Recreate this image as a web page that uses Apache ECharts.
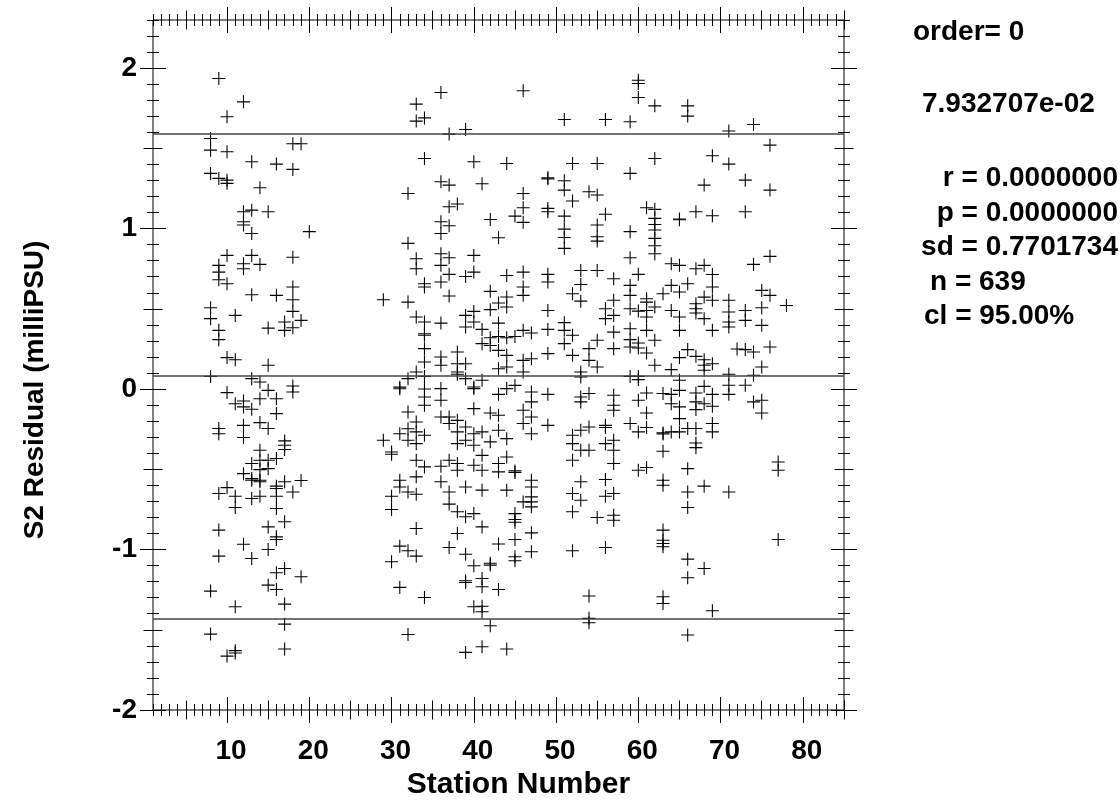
<!DOCTYPE html>
<html>
<head>
<meta charset="utf-8">
<script src="https://cdn.jsdelivr.net/npm/echarts@6/dist/echarts.min.js"></script>
<style>
html,body{margin:0;padding:0;background:#fff;}
#main{width:1120px;height:803px;}
</style>
</head>
<body>
<div id="main"></div>
<script>
// residuals (milliPSU), one list per station
var st08 = [1.562, 1.489, 1.344, 0.507, 0.439, 0.079, -1.259, -1.527];
var st09 = [1.935, 1.313, 0.771, 0.729, 0.681, 0.366, 0.308, -0.246, -0.278, -0.651, -0.879, -1.041];
var st10 = [1.697, 1.479, 1.302, 1.282, 0.833, 0.656, 0.196, -0.022, -0.614, -1.664];
var st11 = [0.459, 0.183, -0.091, -0.668, -0.738, -1.357, -1.630, -1.645];
var st12 = [1.790, 1.105, 1.043, 1.022, 0.781, 0.750, -0.074, -0.111, -0.226, -0.302, -0.527, -0.967];
var st13 = [1.417, 1.115, 0.970, 0.833, 0.588, 0.065, -0.126, -0.464, -0.558, -0.568, -0.682, -1.056];
var st14 = [1.255, 0.777, 0.044, -0.060, -0.209, -0.381, -0.444, -0.502, -0.568, -0.578, -0.668];
var st15 = [1.105, 0.380, 0.148, -0.008, -0.246, -0.444, -0.496, -0.859, -1.000, -1.222];
var st16 = [1.402, 0.584, -0.060, -0.153, -0.433, -0.605, -0.620, -0.668, -0.744, -0.921, -0.937, -1.145, -1.249];
var st17 = [0.418, 0.366, -0.323, -0.350, -0.377, -0.578, -0.827, -1.118, -1.340, -1.465, -1.620];
var st18 = [1.529, 1.369, 0.822, 0.636, 0.557, 0.484, 0.382, 0.019, -0.018, -0.641];
var st19 = [1.529, 0.428, -0.570, -1.170];
var st20 = [0.981];
var st29 = [0.557, -0.319];
var st30 = [-0.392, -0.406, -0.668, -0.751, -1.076];
var st31 = [0.012, 0.002, -0.278, -0.568, -0.610, -0.979, -1.236];
var st32 = [1.219, 0.908, 0.542, 0.065, -0.143, -0.247, -0.319, -0.641, -1.008, -1.529];
var st33 = [1.776, 1.670, 0.812, 0.750, 0.449, 0.106, -0.205, -0.267, -0.340, -0.444, -0.547, -0.655, -0.869, -1.041];
var st34 = [1.690, 1.437, 0.656, 0.636, 0.418, 0.345, 0.335, 0.252, 0.169, 0.079, 0.000, -0.049, -0.101, -0.288, -0.485, -1.299];
var st36 = [1.848, 1.292, 1.043, 0.970, 0.843, 0.771, 0.667, 0.411, 0.200, 0.148, 0.003, -0.070, -0.174, -0.481, -0.578];
var st37 = [1.589, 1.271, 1.136, 1.018, 0.818, 0.715, 0.580, -0.174, -0.215, -0.444, -0.641, -0.717, -0.987];
var st38 = [1.153, 0.231, 0.158, 0.106, 0.092, -0.195, -0.267, -0.340, -0.464, -0.506, -0.765, -0.900];
var st39 = [1.618, 0.702, 0.459, 0.387, 0.158, 0.065, -0.236, -0.319, -0.610, -0.796, -1.029, -1.195, -1.205, -1.641];
var st40 = [1.417, 0.833, 0.729, 0.484, 0.418, 0.013, 0.003, -0.122, -0.278, -0.350, -0.475, -0.776, -1.101, -1.357];
var st41 = [1.280, 0.372, 0.283, 0.055, -0.267, -0.413, -0.506, -0.630, -0.859, -1.180, -1.232, -1.353, -1.388, -1.606];
var st42 = [1.057, 0.609, 0.495, 0.320, 0.272, -0.149, -0.329, -1.085, -1.097, -1.475];
var st43 = [0.943, 0.536, 0.411, 0.328, 0.241, 0.127, -0.033, -0.163, -0.257, -0.464, -0.516, -0.966, -1.249];
var st44 = [1.406, 0.708, 0.574, 0.511, 0.320, 0.210, 0.138, 0.003, -0.309, -0.423, -0.630, -1.620];
var st45 = [1.078, 0.328, 0.023, -0.510, -0.520, -0.776, -0.813, -0.830, -0.937, -1.045, -1.070];
var st46 = [1.859, 1.219, 1.130, 1.039, 0.729, 0.636, 0.584, 0.366, 0.179, 0.106, -0.132, -0.215, -0.703];
var st47 = [0.349, 0.189, -0.018, -0.080, -0.174, -0.278, -0.568, -0.610, -0.672, -0.703, -0.734, -0.896, -1.014];
var st49 = [1.317, 1.310, 1.126, 1.105, 0.715, 0.667, 0.490, 0.372, 0.221, -0.033, -0.226];
var st51 = [1.680, 1.298, 1.240, 1.078, 0.997, 0.945, 0.877, 0.414, 0.366, 0.283];
var st52 = [1.406, 1.172, 0.594, 0.335, 0.210, -0.288, -0.340, -0.444, -0.651, -0.765, -1.008];
var st53 = [0.739, 0.652, 0.548, 0.106, 0.075, -0.049, -0.080, -0.257, -0.381, -0.578, -0.693];
var st54 = [1.230, 0.252, 0.179, -0.028, -0.236, -0.381, -1.290, -1.429, -1.456];
var st55 = [1.406, 1.209, 1.022, 0.949, 0.922, 0.739, 0.304, 0.138, -0.800];
var st56 = [1.680, 1.089, 0.501, 0.439, -0.226, -0.240, -0.340, -0.564, -0.668, -0.987];
var st57 = [0.688, 0.553, 0.459, 0.355, 0.252, -0.039, -0.101, -0.132, -0.319, -0.381, -0.464, -0.651, -0.786, -0.817];
var st59 = [1.666, 1.344, 0.981, 0.818, 0.646, 0.584, 0.501, 0.376, 0.308, 0.262, 0.079, -0.215];
var st60 = [1.925, 1.904, 1.817, 0.715, 0.486, 0.287, 0.256, 0.079, 0.059, -0.070, -0.267, -0.506];
var st61 = [1.130, 0.563, 0.542, 0.490, 0.449, 0.366, 0.225, -0.024, -0.149, -0.240, -0.489];
var st62 = [1.765, 1.437, 1.120, 1.064, 1.026, 0.991, 0.939, 0.893, 0.843, 0.511, 0.304, 0.148];
var st63 = [0.594, -0.028, -0.273, -0.280, -0.388, -0.568, -0.599, -0.879, -0.942, -0.962, -0.983, -1.294, -1.336];
var st64 = [0.781, 0.646, 0.490, 0.121, -0.033, -0.091, -0.267];
var st65 = [1.060, 1.055, 0.771, 0.605, 0.449, 0.366, 0.196, 0.055, -0.008, -0.111, -0.184, -0.267];
var st66 = [1.765, 1.701, 0.656, 0.246, -0.246, -0.496, -0.641, -0.738, -1.060, -1.176, -1.533];
var st67 = [1.105, 0.750, 0.532, 0.501, 0.474, 0.204, -0.024, -0.080, -0.128, -0.246, -0.336, -0.365];
var st68 = [1.271, 0.771, 0.573, 0.439, 0.183, 0.148, 0.117, 0.017, -0.091, -0.605, -1.118];
var st69 = [1.454, 1.080, 0.714, 0.636, 0.553, 0.366, 0.158, -0.033, -0.107, -0.215, -0.267, -1.382];
var st71 = [1.608, 1.402, 0.553, 0.480, 0.418, 0.387, 0.092, 0.024, -0.033, -0.641];
var st72 = [0.250];
var st73 = [1.302, 1.105, 0.490, 0.428, 0.246, 0.024];
var st74 = [1.649, 0.777, 0.231, 0.086, -0.080];
var st75 = [0.615, 0.507, 0.397, 0.138, -0.070, -0.149];
var st76 = [1.520, 1.240, 0.827, 0.584, 0.262];
var st77 = [-0.454, -0.506, -0.937];
var st78 = [0.521];

var stationLists = [
  [8, st08], [9, st09], [10, st10], [11, st11], [12, st12], [13, st13], [14, st14],
  [15, st15], [16, st16], [17, st17], [18, st18], [19, st19], [20, st20],
  [29, st29], [30, st30], [31, st31], [32, st32], [33, st33], [34, st34], [36, st36],
  [37, st37], [38, st38], [39, st39], [40, st40], [41, st41], [42, st42], [43, st43],
  [44, st44], [45, st45], [46, st46], [47, st47], [49, st49], [51, st51], [52, st52],
  [53, st53], [54, st54], [55, st55], [56, st56], [57, st57], [59, st59], [60, st60],
  [61, st61], [62, st62], [63, st63], [64, st64], [65, st65], [66, st66], [67, st67],
  [68, st68], [69, st69], [71, st71], [72, st72], [73, st73], [74, st74], [75, st75],
  [76, st76], [77, st77], [78, st78]
];

// fit statistics shown at the right
var fitMean = 0.07932707;
var fitSd = 0.7701734;
var fitZ = 1.96; // 95% level
var statLines = ['r = 0.0000000', 'p = 0.0000000', 'sd = 0.7701734'];

// axis ticks and labels
var xTickLabels = [10, 20, 30, 40, 50, 60, 70, 80];
var xMidTicks = [5, 15, 25, 35, 45, 55, 65, 75, 85];
var yTickLabels = [-2, -1, 0, 1, 2];
var yMidTicks = [-1.5, -0.5, 0.5, 1.5];

var xMinorTicks = [];
for (var i = 1; i <= 85; i++) xMinorTicks.push(i);
var yMinorTicks = [];
for (var k = -20; k <= 23; k++) yMinorTicks.push(k / 10);

var X_MIN = 1, X_MAX = 85, Y_MIN = -2, Y_MAX = 2.3;
var FONT = 'Liberation Sans, Arial, Helvetica, sans-serif';

var points = [];
stationLists.forEach(function (s) {
  s[1].forEach(function (v) { points.push([s[0], v]); });
});

// tick-only axis: shifted inward by len so the ticks straddle the frame
function tickAxis(pos, vals, len, isY) {
  return {
    type: 'value', position: pos,
    min: isY ? Y_MIN : X_MIN, max: isY ? Y_MAX : X_MAX,
    offset: -len,
    axisLine: { show: false, onZero: false },
    axisLabel: { show: false },
    splitLine: { show: false },
    axisTick: { show: true, inside: false, length: len * 2, customValues: vals,
                lineStyle: { color: '#000', width: 1 } }
  };
}

var labelStyle = { fontSize: 28, fontWeight: 'bold', fontFamily: FONT, color: '#000' };
var textFont = 'bold 28px ' + FONT;

var myChart = echarts.init(document.getElementById('main'));
var option = {
  animation: false,
  backgroundColor: '#fff',
  grid: { left: 153, top: 20, right: 276, bottom: 93, show: true, borderColor: '#000',
          borderWidth: 1, backgroundColor: 'transparent', containLabel: false, outerBoundsMode: 'none' },
  xAxis: [
    {
      type: 'value', position: 'bottom', min: X_MIN, max: X_MAX,
      axisLine: { show: false, onZero: false }, axisTick: { show: false }, splitLine: { show: false },
      axisLabel: Object.assign({ customValues: xTickLabels, margin: 27, padding: [0, 0, 0, 8] }, labelStyle),
      name: 'Station Number', nameLocation: 'middle', nameGap: 60,
      nameTextStyle: Object.assign({}, labelStyle, { fontSize: 30, padding: [0, 0, 0, 40] })
    },
    tickAxis('bottom', xMinorTicks, 6, false),
    tickAxis('bottom', xMidTicks, 9.5, false),
    tickAxis('bottom', xTickLabels, 13, false),
    tickAxis('top', xMinorTicks, 6, false),
    tickAxis('top', xMidTicks, 9.5, false),
    tickAxis('top', xTickLabels, 13, false)
  ],
  yAxis: [
    {
      type: 'value', position: 'left', min: Y_MIN, max: Y_MAX,
      axisLine: { show: false, onZero: false }, axisTick: { show: false }, splitLine: { show: false },
      axisLabel: Object.assign({ customValues: yTickLabels, margin: 16 }, labelStyle),
      name: 'S2 Residual (milliPSU)', nameLocation: 'middle', nameGap: 104,
      nameTextStyle: Object.assign({ padding: [0, 50, 0, 0] }, labelStyle)
    },
    tickAxis('left', yMinorTicks, 6, true),
    tickAxis('left', yMidTicks, 9.5, true),
    tickAxis('left', yTickLabels, 13, true),
    tickAxis('right', yMinorTicks, 6, true),
    tickAxis('right', yMidTicks, 9.5, true),
    tickAxis('right', yTickLabels, 13, true)
  ],
  series: [{
    type: 'scatter',
    xAxisIndex: 0, yAxisIndex: 0,
    data: points,
    symbol: 'path://M5.5,0H6.5V5.5H12V6.5H6.5V12H5.5V6.5H0V5.5H5.5Z',
    symbolSize: 13,
    itemStyle: { color: '#000', opacity: 1 },
    silent: true,
    markLine: {
      silent: true,
      symbol: ['none', 'none'],
      label: { show: false },
      lineStyle: { color: '#444', width: 1.5, type: 'solid' },
      data: [
        { yAxis: fitMean + fitZ * fitSd },
        { yAxis: fitMean },
        { yAxis: fitMean - fitZ * fitSd }
      ]
    }
  }],
  graphic: [
    { type: 'text', left: 913, top: 18, style: { text: 'order= 0', font: textFont, fill: '#000' } },
    { type: 'text', left: 922, top: 90, style: { text: fitMean.toExponential(6).replace('e-', 'e-0'), font: textFont, fill: '#000' } },
    { type: 'text', right: 2, top: 164, style: { text: statLines[0], font: textFont, fill: '#000' } },
    { type: 'text', right: 2, top: 199, style: { text: statLines[1], font: textFont, fill: '#000' } },
    { type: 'text', right: 2, top: 233, style: { text: statLines[2], font: textFont, fill: '#000' } },
    { type: 'text', left: 930, top: 268, style: { text: 'n = 639', font: textFont, fill: '#000' } },
    { type: 'text', left: 924, top: 302, style: { text: 'cl = 95.00%', font: textFont, fill: '#000' } }
  ]
};
myChart.setOption(option);
</script>
</body>
</html>
